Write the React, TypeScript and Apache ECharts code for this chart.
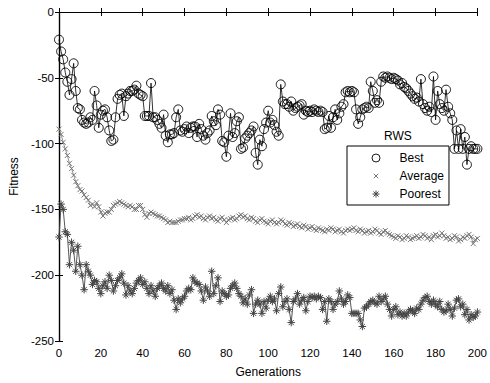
import React, { useEffect, useRef } from 'react';
import * as echarts from 'echarts';

const best = [
  -21, -30, -36, -46, -53, -63, -51, -39, -60, -73,
  -74, -82, -84, -85, -84, -80, -82, -60, -71, -88,
  -78, -75, -74, -80, -90, -98, -97, -80, -66, -63,
  -62, -79, -64, -62, -60, -60, -59, -56, -62, -63,
  -64, -79, -79, -79, -54, -80, -80, -82, -85, -88,
  -78, -94, -99, -93, -93, -92, -80, -74, -90, -91,
  -89, -87, -92, -88, -87, -87, -95, -85, -89, -94,
  -97, -92, -90, -79, -83, -86, -74, -78, -98, -99,
  -110, -94, -77, -95, -92, -83, -80, -104, -103, -96,
  -94, -92, -90, -87, -107, -116, -97, -102, -89, -84,
  -75, -84, -82, -86, -91, -94, -55, -68, -70, -70,
  -72, -68, -75, -73, -72, -71, -70, -78, -75, -76,
  -75, -76, -74, -75, -76, -75, -76, -89, -88, -79,
  -88, -80, -74, -82, -77, -72, -70, -61, -60, -61,
  -60, -61, -74, -85, -80, -74, -73, -72, -73, -53,
  -60, -69, -67, -69, -53, -49, -50, -49, -50, -51,
  -50, -51, -52, -55, -54, -57, -58, -60, -62, -64,
  -66, -65, -68, -51, -70, -73, -75, -72, -76, -49,
  -82, -60, -70, -73, -75, -59, -72, -77, -82, -104,
  -90, -104, -89, -104, -95, -116, -104, -102, -104, -104,
  -104,
];

const average = [
  -89, -93, -99, -104, -109, -115, -119, -124, -129, -132,
  -135, -136, -139, -141, -143, -147, -146, -148, -145, -148,
  -152, -155, -153, -152, -152, -150, -147, -146, -145, -144,
  -145, -146, -147, -148, -147, -148, -150, -150, -147, -147,
  -150, -154, -156, -153, -152, -153, -154, -155, -155, -156,
  -157, -158, -160, -159, -160, -160, -160, -159, -158, -158,
  -157, -157, -156, -158, -157, -155, -154, -156, -155, -157,
  -158, -156, -155, -157, -156, -158, -159, -157, -156, -158,
  -160, -158, -157, -156, -158, -157, -155, -154, -156, -155,
  -157, -158, -156, -157, -159, -160, -158, -157, -159, -160,
  -161, -159, -158, -160, -161, -160, -158, -159, -161, -162,
  -160, -161, -163, -162, -161, -163, -164, -162, -163, -165,
  -164, -163, -165, -166, -164, -165, -166, -167, -165, -166,
  -164, -165, -167, -166, -165, -167, -168, -166, -165, -166,
  -165, -164, -166, -167, -165, -166, -168, -167, -166, -168,
  -167, -165, -166, -168, -169, -167, -166, -168, -169, -170,
  -171, -172, -170, -171, -173, -172, -170, -171, -173, -172,
  -171, -170, -172, -171, -169, -170, -172, -171, -173, -170,
  -169, -171, -170, -168, -170, -172, -171, -173, -172, -170,
  -171, -174, -173, -171, -172, -170, -169, -171, -176, -173,
  -172,
];

const poorest = [
  -171, -146, -150, -167, -169, -192, -175, -181, -197, -178,
  -192, -200, -211, -192, -197, -200, -207, -204, -205, -210,
  -214, -208, -205, -210, -200, -204, -212, -208, -204, -202,
  -199, -206, -215, -208, -212, -214, -210, -206, -204, -202,
  -207, -205, -210, -214, -208, -212, -216, -210, -208, -206,
  -210, -212, -208, -214, -211, -219, -226, -218, -221, -218,
  -216, -212, -210, -211, -202, -205, -206, -207, -212, -219,
  -209, -212, -216, -197, -214, -208, -202, -220, -212, -214,
  -216, -215, -210, -208, -206, -210, -214, -216, -221, -218,
  -222, -215, -211, -229, -222, -219, -222, -229, -220, -225,
  -219, -216, -220, -218, -227, -214, -209, -224, -220, -218,
  -226, -236, -220, -218, -214, -222, -219, -217, -227, -220,
  -216, -217, -216, -218, -216, -217, -226, -220, -235, -218,
  -220, -226, -222, -220, -212, -218, -222, -220, -215, -217,
  -229, -229, -229, -229, -234, -239, -225, -224, -222, -220,
  -219, -221, -222, -216, -220, -218, -216, -222, -226, -231,
  -226, -224, -230, -228, -231, -229, -231, -228, -226, -227,
  -229, -225, -226, -222, -219, -217, -216, -220, -222, -219,
  -222, -224, -220, -226, -228, -227, -222, -226, -231, -225,
  -219, -218, -224, -222, -230, -226, -234, -230, -232, -231,
  -228,
];

const seriesNames = ['Best', 'Average', 'Poorest'];
const legendTitle = 'RWS';
const xName = 'Generations';
const yName = 'Fitness';

const FONT = '"Liberation Sans", Arial, Helvetica, sans-serif';
const X_SYMBOL = 'path://M0,0L10,10M10,0L0,10';
const STAR_SYMBOL = 'path://M5,0L5,10M0,5L10,5M1.6,1.6L8.4,8.4M8.4,1.6L1.6,8.4';
// legend icons: a 23x9 box (invisible moveTo corners) with the marker at its left,
// so the label starts well to the right of the marker, as in the reference
const CIRCLE_ICON = 'path://M0,0M23,9M8.5,4.5A4,4,0,1,1,0.5,4.5A4,4,0,1,1,8.5,4.5Z';
const X_ICON = 'path://M0,0M23,9M2.3,2.3L6.7,6.7M6.7,2.3L2.3,6.7';
const STAR_ICON = 'path://M0,0M23,9M4.5,1L4.5,8M1,4.5L8,4.5M2,2L7,7M7,2L2,7';

const toPairs = (arr: number[]) => arr.map((v, i) => [i, v]);

export default function App() {
  const ref = useRef<HTMLDivElement>(null);
  useEffect(() => {
    const chart = echarts.init(ref.current!, null, { renderer: 'svg' });
    const axisLine = { show: true, lineStyle: { color: '#000', width: 1.2 } };
    const axisTick = { show: true, inside: true, length: 4, lineStyle: { color: '#000', width: 1 } };
    const labelStyle = { color: '#000', fontSize: 11.5, fontFamily: FONT };
    chart.setOption({
      animation: false,
      backgroundColor: '#fff',
      grid: { left: 57, right: 9, top: 12, bottom: 40, containLabel: false },
      xAxis: [
        {
          type: 'value', min: 0, max: 200, interval: 20, position: 'bottom',
          name: xName, nameLocation: 'middle', nameGap: 25,
          nameTextStyle: { color: '#000', fontSize: 12, fontFamily: FONT },
          axisLine, axisTick, splitLine: { show: false },
          axisLabel: { ...labelStyle, margin: 6 },
        },
        {
          type: 'value', min: 0, max: 200, interval: 20, position: 'top',
          axisLine, axisTick, splitLine: { show: false }, axisLabel: { show: false },
        },
      ],
      yAxis: [
        {
          type: 'value', min: -250, max: 0, interval: 50, position: 'left',
          name: yName, nameLocation: 'middle', nameGap: 39,
          nameTextStyle: { color: '#000', fontSize: 12, fontFamily: FONT },
          axisLine, axisTick, splitLine: { show: false },
          axisLabel: { ...labelStyle, margin: 5 },
        },
        {
          type: 'value', min: -250, max: 0, interval: 50, position: 'right',
          axisLine, axisTick, splitLine: { show: false }, axisLabel: { show: false },
        },
      ],
      legend: {
        orient: 'vertical',
        left: 347,
        top: 146,
        itemWidth: 23,
        itemHeight: 9,
        itemGap: 6,
        padding: [6, 5, 5, 24],
        backgroundColor: '#fff',
        borderColor: '#000',
        borderWidth: 1,
        borderRadius: 0,
        textStyle: { color: '#000', fontSize: 12, fontFamily: FONT },
        data: [
          { name: seriesNames[0], icon: CIRCLE_ICON, itemStyle: { color: 'transparent', borderColor: '#000', borderWidth: 0.9 } },
          { name: seriesNames[1], icon: X_ICON, itemStyle: { color: '#777', borderColor: '#777', borderWidth: 1 } },
          { name: seriesNames[2], icon: STAR_ICON, itemStyle: { color: '#444', borderColor: '#444', borderWidth: 1 } },
        ],
      },
      graphic: [
        {
          type: 'text', left: 384, top: 130,
          style: { text: legendTitle, fill: '#000', font: `12px ${FONT}` },
        },
      ],
      series: [
        {
          name: seriesNames[2], type: 'line', data: toPairs(poorest),
          symbol: STAR_SYMBOL, symbolSize: 7.5, showAllSymbol: true,
          lineStyle: { color: '#444', width: 0.9 },
          itemStyle: { color: '#444', borderColor: '#444', borderWidth: 1 },
        },
        {
          name: seriesNames[1], type: 'line', data: toPairs(average),
          symbol: X_SYMBOL, symbolSize: 5, showAllSymbol: true,
          lineStyle: { color: '#777', width: 0.8 },
          itemStyle: { color: '#777', borderColor: '#777', borderWidth: 1 },
        },
        {
          name: seriesNames[0], type: 'line', data: toPairs(best),
          symbol: 'circle', symbolSize: 9, showAllSymbol: true,
          lineStyle: { color: '#000', width: 0.8 },
          itemStyle: { color: 'transparent', borderColor: '#000', borderWidth: 0.9 },
        },
      ],
    });
    return () => chart.dispose();
  }, []);
  return <div ref={ref} style={{ position: 'fixed', left: 0, top: 0, width: 490, height: 383 }} />;
}
